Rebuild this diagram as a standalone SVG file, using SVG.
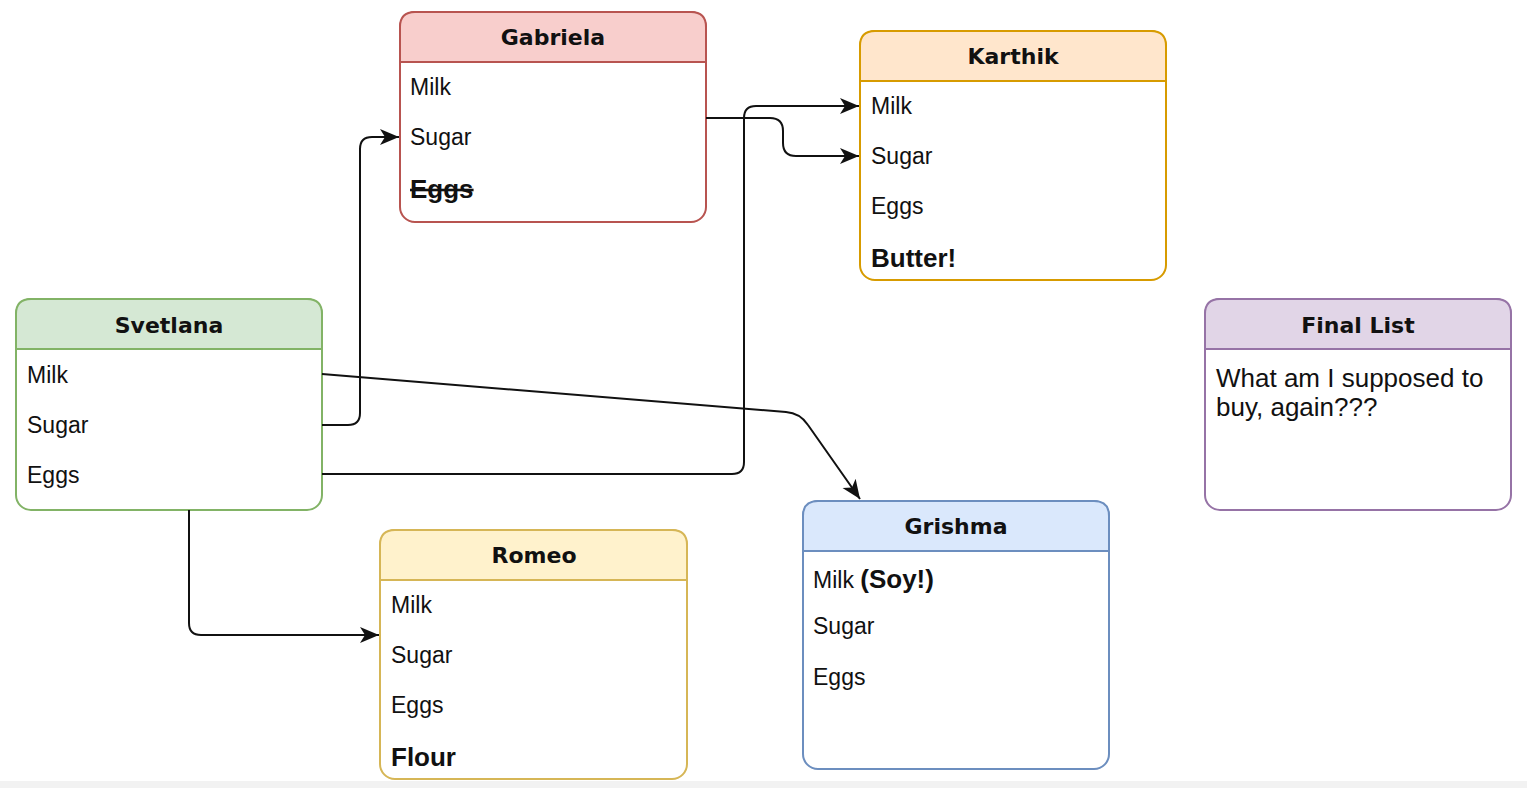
<svg xmlns="http://www.w3.org/2000/svg" width="1527" height="788" viewBox="0 0 1527 788">
<style>
.title{font-family:"DejaVu Sans",Verdana,sans-serif;font-weight:bold;font-size:22px;fill:#111;text-anchor:middle}
.row{font-family:"Liberation Sans",Arial,sans-serif;font-size:23px;fill:#111}
.big{font-family:"Liberation Sans",Arial,sans-serif;font-size:26px;font-weight:bold;fill:#111}
.note{font-family:"Liberation Sans",Arial,sans-serif;font-size:26px;fill:#111}
.conn{fill:none;stroke:#111;stroke-width:2}
.body{fill:#fff;stroke-width:2}
</style>
<defs>
<marker id="arr" markerUnits="userSpaceOnUse" viewBox="0 0 20 18" markerWidth="20" markerHeight="18" refX="19" refY="9" orient="auto">
<path d="M0,1 L19,9 L0,17 L5,9 Z" fill="#111"/>
</marker>
</defs>
<rect x="0" y="0" width="1527" height="788" fill="#fff"/>
<rect x="0" y="781" width="1527" height="7" fill="#f2f2f2"/>

<g id="gabriela">
<rect class="body" x="400" y="12" width="306" height="210" rx="15" stroke="#b85450"/>
<path d="M400,62 V27 Q400,12 415,12 H691 Q706,12 706,27 V62 Z" fill="#f8cecc" stroke="#b85450" stroke-width="2"/>
<text class="title" x="553" y="45">Gabriela</text>
<text class="row" x="410" y="95">Milk</text>
<text class="row" x="410" y="145">Sugar</text>
<text class="big" x="410" y="198" text-decoration="line-through">Eggs</text>
</g>

<g id="karthik">
<rect class="body" x="860" y="31" width="306" height="249" rx="15" stroke="#d79b00"/>
<path d="M860,81 V46 Q860,31 875,31 H1151 Q1166,31 1166,46 V81 Z" fill="#ffe6cc" stroke="#d79b00" stroke-width="2"/>
<text class="title" x="1013" y="64">Karthik</text>
<text class="row" x="871" y="114">Milk</text>
<text class="row" x="871" y="164">Sugar</text>
<text class="row" x="871" y="214">Eggs</text>
<text class="big" x="871" y="267">Butter!</text>
</g>

<g id="svetlana">
<rect class="body" x="16" y="299" width="306" height="211" rx="15" stroke="#82b366"/>
<path d="M16,349 V314 Q16,299 31,299 H307 Q322,299 322,314 V349 Z" fill="#d5e8d4" stroke="#82b366" stroke-width="2"/>
<text class="title" x="169" y="333">Svetlana</text>
<text class="row" x="27" y="383">Milk</text>
<text class="row" x="27" y="433">Sugar</text>
<text class="row" x="27" y="483">Eggs</text>
</g>

<g id="romeo">
<rect class="body" x="380" y="530" width="307" height="249" rx="15" stroke="#d6b656"/>
<path d="M380,580 V545 Q380,530 395,530 H672 Q687,530 687,545 V580 Z" fill="#fff2cc" stroke="#d6b656" stroke-width="2"/>
<text class="title" x="534" y="563">Romeo</text>
<text class="row" x="391" y="613">Milk</text>
<text class="row" x="391" y="663">Sugar</text>
<text class="row" x="391" y="713">Eggs</text>
<text class="big" x="391" y="766">Flour</text>
</g>

<g id="grishma">
<rect class="body" x="803" y="501" width="306" height="268" rx="15" stroke="#6c8ebf"/>
<path d="M803,551 V516 Q803,501 818,501 H1094 Q1109,501 1109,516 V551 Z" fill="#dae8fc" stroke="#6c8ebf" stroke-width="2"/>
<text class="title" x="956" y="534">Grishma</text>
<text class="row" x="813" y="588">Milk <tspan style="font-weight:bold;font-size:26px">(Soy!)</tspan></text>
<text class="row" x="813" y="634">Sugar</text>
<text class="row" x="813" y="685">Eggs</text>
</g>

<g id="final-list">
<rect class="body" x="1205" y="299" width="306" height="211" rx="15" stroke="#9673a6"/>
<path d="M1205,349 V314 Q1205,299 1220,299 H1496 Q1511,299 1511,314 V349 Z" fill="#e1d5e7" stroke="#9673a6" stroke-width="2"/>
<text class="title" x="1358" y="333">Final List</text>
<text class="note" x="1216" y="387">What am I supposed to</text>
<text class="note" x="1216" y="416">buy, again???</text>
</g>

<g id="connectors">
<path class="conn" d="M322,425 H348 Q360,425 360,413 V149 Q360,137 372,137 H399" marker-end="url(#arr)"/>
<path class="conn" d="M322,474 H732 Q744,474 744,462 V118 Q744,106 756,106 H859" marker-end="url(#arr)"/>
<path class="conn" d="M706,118 H770 Q783,118 783,131 V143 Q783,156 796,156 H859" marker-end="url(#arr)"/>
<path class="conn" d="M322,374 L786,412 Q800,413 808,425 L860,499" marker-end="url(#arr)"/>
<path class="conn" d="M189,510 V623 Q189,635 201,635 H379" marker-end="url(#arr)"/>
</g>
</svg>
